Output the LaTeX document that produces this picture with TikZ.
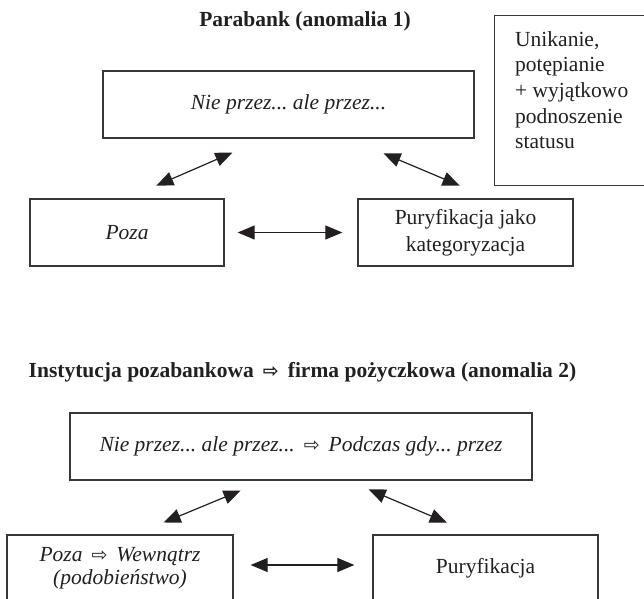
\documentclass[tikz,border=0pt]{standalone}
\usepackage{fontspec}
\setmainfont{Liberation Serif}
\newfontfamily\arrowfont{DejaVu Sans}
\usepackage{xcolor}
\definecolor{InkBlack}{RGB}{35,31,32}
\definecolor{LineGray}{RGB}{55,55,55}
\usepackage{tikz}
\usetikzlibrary{arrows.meta, positioning, calc}
\frenchspacing
\tikzset{
  % Plain framed box
  sbox/.style={
    rectangle, draw=LineGray, line width=1.3pt,
    align=center, text=InkBlack,
    minimum height=67pt, inner sep=4pt,
    font=\fontsize{21.5}{26.5}\selectfont
  },
  % Italic variant
  sbox it/.style={sbox, font=\fontsize{21.5}{23}\selectfont\itshape},
  % Section heading
  htitle/.style={font=\fontsize{21.5}{26}\selectfont\bfseries, text=InkBlack, inner sep=0pt},
  % Side note text
  note/.style={font=\fontsize{21.5}{25.7}\selectfont, text=InkBlack, align=left, inner sep=0pt},
  % Double-headed arrow
  dblarr/.style={{Triangle[length=17pt,width=14pt]}-{Triangle[length=17pt,width=14pt]}, line width=1.2pt, InkBlack},
}
\newcommand{\thento}{\hspace{9pt}{\arrowfont\fontsize{19}{19}\selectfont\upshape ⇨}\hspace{9pt}}

\begin{document}
\begin{tikzpicture}[x=1pt, y=-1pt]
  \useasboundingbox (0,0) rectangle (644,598);
  \clip (0,0) rectangle (644,598);

  % anomalia 1
  \node[htitle] (title1) at (305,21) {Parabank (anomalia 1)};
  \node[sbox it, minimum width=371pt] (top1) at (288.5,104.5) {Nie przez... ale przez...};
  \node[sbox it, minimum width=194pt] (poza1) at (127,232.5) {Poza};
  \node[sbox, minimum width=215pt] (pur1) at (465.5,232.5) {Puryfikacja jako\\kategoryzacja};
  \node[sbox, minimum width=190pt, minimum height=170pt, anchor=north west] (side) at (494,15) {};
  \node[note, anchor=north west] (sidetext) at (515,31) {Unikanie,\\potępianie\\+ wyjątkowo\\podnoszenie\\statusu};

  \draw[dblarr, shorten <=32pt, shorten >=35pt] (poza1.north) -- ([xshift=-24pt]top1.south);
  \draw[dblarr, shorten <=38pt, shorten >=33pt] ([xshift=60pt]top1.south) -- ([xshift=24.5pt]pur1.north);
  \draw[dblarr, shorten <=13pt, shorten >=15pt] (poza1.east) -- (pur1.west);

  % anomalia 2
  \node[htitle] (title2) at (302.5,372) {Instytucja pozabankowa\thento firma pożyczkowa (anomalia 2)};
  \node[sbox it, minimum width=462pt] (top2) at (301,446.5) {Nie przez... ale przez...\thento Podczas gdy... przez};
  \node[sbox it, minimum width=226pt] (poza2) at (120,568.5) {Poza\thento Wewnątrz\\(podobieństwo)};
  \node[sbox, minimum width=225pt] (pur2) at (485.5,568.5) {Puryfikacja};

  \draw[dblarr, shorten <=31pt, shorten >=26pt] ([xshift=15pt]poza2.north) -- ([xshift=-36.4pt]top2.south);
  \draw[dblarr, shorten <=22.5pt, shorten >=30pt] ([xshift=47pt]top2.south) -- ([xshift=-11pt]pur2.north);
  \draw[dblarr, shorten <=17pt, shorten >=18pt] ([yshift=3.5pt]poza2.east) -- ([yshift=3.5pt]pur2.west);
\end{tikzpicture}
\end{document}
